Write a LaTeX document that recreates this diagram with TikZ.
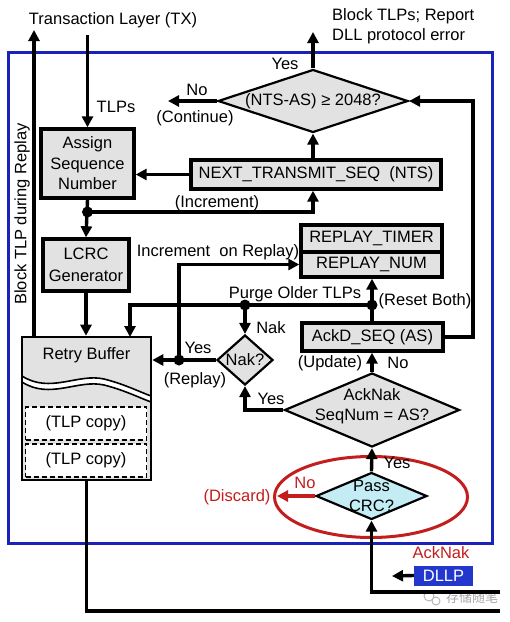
\documentclass[tikz,border=0pt]{standalone}
\usepackage{fontspec}
\setmainfont{Liberation Sans}
\newfontfamily\cjk{Noto Sans CJK SC}
\usetikzlibrary{arrows.meta,shapes.geometric}
\definecolor{boxgray}{RGB}{226,226,226}
\definecolor{frameblue}{RGB}{25,35,185}
\definecolor{dllpblue}{RGB}{35,55,205}
\definecolor{errred}{RGB}{195,30,30}
\definecolor{crccyan}{RGB}{195,236,245}
\begin{document}
\begin{tikzpicture}[x=1pt,y=-1pt,
  every node/.style={font=\fontsize{16.5}{20.5}\selectfont, inner sep=0pt},
  box/.style={draw, line width=3.4pt, fill=boxgray, rectangle},
  arr/.style={line width=3.4pt, -{Triangle[length=11pt,width=11pt]}},
  ln/.style={line width=3.4pt},
  dot/.style={circle, fill, minimum size=11pt, inner sep=0pt},
  dia/.style={diamond, draw, line width=2.2pt, fill=boxgray, inner sep=0pt},
  dashbox/.style={draw, dash pattern=on 5pt off 3pt, line width=1.6pt, fill=white, rectangle, minimum width=121pt, minimum height=33pt},
  redtxt/.style={text=errred}
]
\useasboundingbox (0,0) rectangle (510,622);
\fill[white] (0,0) rectangle (510,622);

% frame
\draw[frameblue, line width=3pt] (8,52) rectangle (492,543);

% CRC ellipse
\node[ellipse, draw=errred, line width=3pt, minimum width=193pt, minimum height=81pt] (el) at (371,497) {};

% texts outside
\node (tx) at (113,20) {Transaction Layer (TX)};
\node[anchor=west, align=left] (blk) at (332,26) {Block TLPs; Report\\DLL protocol error};
\node[rotate=90] (bdr) at (22,214) {Block TLP during Replay};

% boxes
\node[box, minimum width=93pt, minimum height=69pt, align=center] (asn) at (87.5,163.5) {Assign\\Sequence\\Number};
\node[box, minimum width=250pt, minimum height=29pt] (nts) at (316,174.5) {NEXT\_TRANSMIT\_SEQ\ \ (NTS)};
\node[box, minimum width=86pt, minimum height=52pt, align=center] (lcrc) at (86,265) {LCRC\\[2pt]Generator};
\node[box, minimum width=141pt, minimum height=27pt] (rtim) at (371.5,238.5) {REPLAY\_TIMER};
\node[box, minimum width=141pt, minimum height=25pt] (rnum) at (371.5,264.5) {REPLAY\_NUM};
\node[box, minimum width=141pt, minimum height=28pt] (ackd) at (372.5,337) {AckD\_SEQ (AS)};

% retry buffer
\node[box, line width=2.6pt, minimum width=129pt, minimum height=143pt] (rb) at (86.5,408.5) {};
\node (rbt) at (86.5,355) {Retry Buffer};
\fill[white] (22,376) .. controls (50,394) and (78,373) .. (104,379) .. controls (124,384) and (140,392) .. (151,396)
  -- (151,402) .. controls (140,398) and (124,390) .. (104,385) .. controls (78,379) and (50,400) .. (22,382) -- cycle;
\draw[line width=1.6pt] (22,376) .. controls (50,394) and (78,373) .. (104,379) .. controls (124,384) and (140,392) .. (151,396);
\draw[line width=1.6pt] (22,382) .. controls (50,400) and (78,379) .. (104,385) .. controls (124,390) and (140,398) .. (151,402);
\node[dashbox] (c1) at (86,423.5) {(TLP copy)};
\node[dashbox] (c2) at (86,460.5) {(TLP copy)};
\draw[line width=2.6pt] (22,337) rectangle (151,480);

% diamonds
\node[dia, minimum width=190pt, minimum height=63pt] (d1) at (313,101) {};
\node (d1t) at (d1.center) {(NTS-AS) ≥ 2048?};
\node[dia, minimum width=175pt, minimum height=74pt] (an) at (372,410) {};
\node[align=center] (ant) at (372,406) {AckNak\\SeqNum = AS?};
\node[dia, minimum width=56pt, minimum height=50pt] (nak) at (245,360) {};
\node (nakt) at (nak.center) {Nak?};
\node[dia, fill=crccyan, minimum width=111pt, minimum height=47pt] (pc) at (371.5,496) {};
\node[align=center] (pct) at (371.5,496) {Pass\\CRC?};

% DLLP
\node[fill=dllpblue, text=white, minimum width=59pt, minimum height=20pt] (dllp) at (443.5,575.5) {DLLP};
\node[redtxt] (ackn) at (441,553) {AckNak};

% labels
\node (tlps) at (116,107) {TLPs};
\node (yes1) at (285,64) {Yes};
\node (no1) at (197,90) {No};
\node (cont) at (195,118) {(Continue)};
\node (incl) at (217,203) {(Increment)};
\node (iorl) at (218,252) {Increment\ \ on Replay)};
\node (purl) at (295,294) {Purge Older TLPs};
\node (nakl) at (271,328) {Nak};
\node (yes2) at (198,348) {Yes};
\node (repl) at (195,380) {(Replay)};
\node (rstl) at (425,301) {(Reset Both)};
\node (updl) at (330,363) {(Update)};
\node (no2) at (398,363) {No};
\node (yes3) at (271,399) {Yes};
\node (yes4) at (397,463) {Yes};
\node[redtxt] (no3) at (305,483) {No};
\node[redtxt] (disc) at (237,497) {(Discard)};

% watermark
\node[text=black!35, font=\cjk\fontsize{13}{15}\selectfont] (wm) at (472,598) {存储随笔};
\draw[black!30, line width=0.9pt] (429,596) circle (5pt);
\draw[black!30, line width=0.9pt, fill=white] (436,601) circle (4pt);

% coordinates
\coordinate (txtop) at (34,30);
\coordinate (tlpin) at (87.5,35);
\coordinate (blkup) at (313,32);
\coordinate (contend) at (168,101);
\coordinate (rc) at (473,101);
\coordinate (pdn) at (130,337);
\coordinate (disce) at (277,496);
\coordinate (in1) at (500,592);
\coordinate (out1) at (500,611);
\coordinate (dllpend) at (392,576);
\node[dot] (inc) at (87.5,212) {};
\node[dot] (pg) at (372,305) {};
\node[dot] (nk) at (245,305) {};
\node[dot] (rp) at (179,360) {};

% connectors
\draw[arr] (txtop |- rb.north) -- (txtop);
\draw[arr] (tlpin) -- (asn.north);
\draw[arr] (nts.west) -- (nts.west -| asn.east);
\draw[arr] (d1.south |- nts.north) -- (d1.south);
\draw[arr] (d1.north) -- (blkup);
\draw[arr] (d1.west) -- (contend);
\draw[arr] (ackd.east) -| (rc) -- (d1.east);
\draw[arr] (asn.south) -- (lcrc.north);
\draw[arr] (inc.center) -| (d1.south |- nts.south);
\draw[arr] (lcrc.south) -- (lcrc.south |- rb.north);
\draw[arr] (ackd.north -| pg) -- (pg |- rnum.south);
\draw[arr] (pg.center) -| (pdn);
\draw[arr] (nk.center) -- (nak.north);
\draw[arr] (an.west) -| (nak.south);
\draw[arr] (an.north) -- (an.north |- ackd.south);
\draw[arr] (nak.west) -- (nak.west -| rb.east);
\draw[arr] (rp.center) |- (rnum.west);
\draw[arr] (pc.north) -- (an.south);
\draw[line width=3.4pt, errred, -{Triangle[length=11pt,width=11pt]}] (pc.west) -- (disce);
\draw[arr] (in1) -| (pc.south);
\draw[ln] (rb.south) |- (out1);
\draw[arr] (dllp.west) -- (dllpend);
\end{tikzpicture}
\end{document}
